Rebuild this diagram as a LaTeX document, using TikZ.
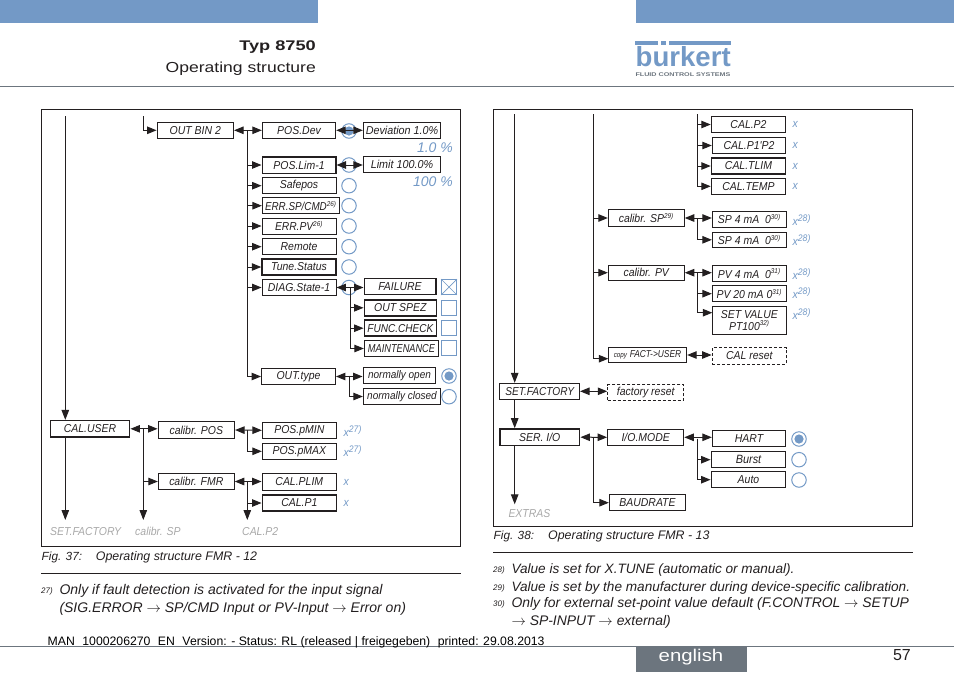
\documentclass[tikz,border=0pt]{standalone}
\usepackage{fontspec}
\setmainfont{Liberation Sans}
\newfontfamily\nar[FakeStretch=0.91]{Liberation Sans}
\usetikzlibrary{arrows.meta}
\definecolor{bk}{HTML}{7399C6}
\definecolor{gy}{HTML}{6C757E}
\definecolor{ink}{HTML}{231F20}
\definecolor{gt}{HTML}{A8A8A8}
\newcommand{\tsz}[1]{\fontsize{#1}{#1}\selectfont}
\newcommand{\sq}[2]{\scalebox{#1}[1]{#2}}
\newcommand{\sups}[1]{\textsuperscript{\tsz{7}#1}}
\newcommand{\supb}[1]{\textsuperscript{\tsz{9.5}#1}}
\newcommand{\ar}{\ensuremath{\rightarrow}}
\tikzset{
  x=1pt,y=-1pt,
  bx/.style={draw=ink,line width=.9pt,inner sep=0pt,text=ink,align=center,font=\nar\tsz{11.5}\itshape},
  tk/.style={bx,line width=1.5pt},
  ds/.style={bx,dash pattern=on 3pt off 2pt},
  ws/.style={minimum width=#1},
  hs/.style={minimum height=#1},
  arr/.style={draw=ink,line width=1pt,-{Triangle[length=9.5pt,width=7.5pt]}},
  bi/.style={draw=ink,line width=1pt,{Triangle[length=9.5pt,width=7.5pt]}-{Triangle[length=9.5pt,width=7.5pt]}},
  dn/.style={draw=ink,line width=1pt,-{Triangle[length=10pt,width=7.5pt]}},
  rd/.style={draw=bk,line width=1pt,circle,minimum size=14.5pt,inner sep=0pt},
  rs/.style={rd,path picture={\fill[bk] (path picture bounding box.center) circle (4.6pt);}},
  ck/.style={draw=bk,line width=.9pt,minimum size=15pt,inner sep=0pt},
  xv/.style={text=bk,inner sep=0pt,font=\nar\tsz{11.5}\itshape,anchor=west},
  gl/.style={text=gt,inner sep=0pt,font=\nar\tsz{11.5}\itshape,anchor=west},
  tx/.style={text=ink,inner sep=0pt,anchor=west},
  capt/.style={tx,font=\tsz{11.8}\itshape},
  fn/.style={tx,font=\tsz{13.6}\itshape},
  fnl/.style={tx,font=\tsz{14}\itshape},
  fnn/.style={tx,font=\tsz{8}\itshape},
  frm/.style={draw=ink,line width=1pt},
  rl/.style={draw=ink,line width=.8pt},
}
\begin{document}
\begin{tikzpicture}
\useasboundingbox (0,0) rectangle (954,673);
% header
\fill[bk] (0,0) rectangle (318,22.5);
\fill[bk] (636,0) rectangle (954,22.5);
\draw[gy,line width=1pt] (0,86) -- (954,86);
\node[tx,anchor=east,font=\tsz{14}\bfseries] (typ) at (316,47.5) {\sq{1.3}{Typ 8750}};
\node[tx,anchor=east,font=\tsz{14.5}] (ops) at (316,69) {\sq{1.21}{Operating structure}};
% logo
\fill[bk] (635,41) rectangle (657.7,45);
\fill[bk] (661,41) rectangle (665.7,45);
\fill[bk] (669,41) rectangle (731,45);
\node[inner sep=0pt,text=bk,anchor=north west] (logo) at (635.5,46.7) {\resizebox{95pt}{20pt}{\bfseries burkert}};
\node[inner sep=0pt,text=gy,font=\tsz{5.4}\bfseries] (logos) at (683,74.6) {\sq{1.33}{FLUID CONTROL SYSTEMS}};
% footer
\draw[gy,line width=1pt] (0,646) -- (954,646);
\fill[gy] (635.7,646) rectangle (746.5,672);
\node[inner sep=0pt,text=white,font=\tsz{17}] (eng) at (691,657.5) {\sq{1.2}{english}};
\node[tx,anchor=east,font=\tsz{16}] (pg) at (911,655) {57};
\node[inner sep=0pt,text=black,anchor=west,font=\tsz{12.25}] (man) at (47.5,642.5) {MAN\,\, 1000206270\,\, EN\,\, Version: - Status: RL (released | freigegeben)\,\, printed: 29.08.2013};

% ========== LEFT PANEL
\draw[frm] (41.5,109.5) rectangle (460.5,546.5);
\coordinate (la) at (65.3,116);
\coordinate (lb) at (143.3,116);
\node[tk,ws=76pt,hs=16pt] (outbin) at (195.3,130.3) {OUT BIN 2};
\node[bx,ws=73.5pt,hs=16pt] (posdev) at (299,130.3) {POS.Dev};
\node[tk,ws=73.5pt,hs=16.5pt] (poslim) at (299,165) {POS.Lim-1};
\node[bx,ws=74pt,hs=16pt] (safepos) at (299,185.7) {Safepos};
\node[bx,ws=77pt,hs=16pt] (errsp) at (300.8,205.7) {\sq{.94}{ERR.SP/CMD}\sups{26)}};
\node[bx,ws=74pt,hs=16pt] (errpv) at (299,226) {\sq{.98}{ERR.PV}\sups{26)}};
\node[bx,ws=74pt,hs=16pt] (remote) at (299,246.7) {Remote};
\node[tk,ws=74pt,hs=16pt] (tune) at (299,267) {Tune.Status};
\node[bx,ws=74pt,hs=16pt] (diag) at (299,287.5) {DIAG.State-1};
\node[bx,ws=74pt,hs=16pt] (outtype) at (298.5,376.5) {OUT.type};
\node[bx,ws=77.4pt,hs=16pt] (devv) at (402,130.3) {\sq{1.03}{Deviation 1.0\%}};
\node[bx,ws=77.4pt,hs=16pt] (limv) at (402,164.7) {\sq{1.03}{Limit 100.0\%}};
\node[xv,anchor=east,font=\tsz{14}\itshape] (pc1) at (453,147.3) {1.0 \%};
\node[xv,anchor=east,font=\tsz{14}\itshape] (pc2) at (453,181.3) {100 \%};
\node[rs] (r1) at (349,131) {};
\node[rd] (r2) at (349,165) {};
\node[rd] (r3) at (349,185.7) {};
\node[rd] (r4) at (349,205.7) {};
\node[rd] (r5) at (349,226) {};
\node[rd] (r6) at (349,246.7) {};
\node[rd] (r7) at (349,267) {};
\node[rd] (r8) at (349,287.5) {};
\node[tk,ws=71.5pt,hs=16pt] (fail) at (400,286.7) {FAILURE};
\node[tk,ws=72pt,hs=16pt] (outsp) at (400.3,307.8) {OUT SPEZ};
\node[tk,ws=72pt,hs=16pt] (func) at (400.3,328.2) {\sq{.96}{FUNC.CHECK}};
\node[bx,ws=74.4pt,hs=15.6pt] (maint) at (401.5,348.5) {\sq{.88}{MAINTENANCE}};
\node[ck] (c1) at (449,287) {};
\draw[bk,line width=.7pt] (c1.north west) -- (c1.south east) (c1.north east) -- (c1.south west);
\node[ck] (c2) at (449,307.5) {};
\node[ck] (c3) at (449,328) {};
\node[ck] (c4) at (449,348.2) {};
\node[tk,ws=72.4pt,hs=16pt] (nopen) at (399.5,375.5) {\tsz{11}normally open};
\node[bx,ws=77.4pt,hs=15.6pt] (nclosed) at (402,396.5) {\tsz{11}normally closed};
\node[rs] (r9) at (449,376) {};
\node[rd] (r10) at (449,396.7) {};
\node[tk,ws=79.4pt,hs=16.3pt] (caluser) at (90,428.8) {CAL.USER};
\node[tk,ws=76pt,hs=16.6pt] (cpos) at (196.3,430) {calibr. POS};
\node[bx,ws=76pt,hs=15.6pt] (cfmr) at (196.3,481.5) {calibr. FMR};
\node[bx,ws=74pt,hs=16pt] (pmin) at (299.3,430.3) {POS.pMIN};
\node[bx,ws=74pt,hs=16pt] (pmax) at (299.3,451.3) {POS.pMAX};
\node[tk,ws=74pt,hs=16.6pt] (cplim) at (299.3,482) {CAL.PLIM};
\node[tk,ws=74pt,hs=16.3pt] (cp1) at (299.3,503) {CAL.P1};
\node[xv] (xa) at (343.5,430.8) {x\supb{27)}};
\node[xv] (xb) at (343.5,451) {x\supb{27)}};
\node[xv] (xc) at (343.5,482) {x};
\node[xv] (xd) at (343.5,503) {x};
\node[gl] (g1) at (50,531.7) {SET.FACTORY};
\node[gl] (g2) at (135,531.7) {calibr. SP};
\node[gl] (g3) at (242,531.7) {CAL.P2};
\coordinate (e1) at (65.3,520);
\coordinate (e2) at (143.3,520);
\coordinate (e3) at (247.3,520);
% connectors left
\draw[dn] (la) -- (caluser.north -| la);
\draw[arr] (lb) |- (outbin.west);
\coordinate (t1) at (247.3,130.3);
\coordinate (t2) at (350.7,287.5);
\coordinate (t3) at (349.3,375.5);
\coordinate (t4) at (143.3,429);
\coordinate (t5) at (247.3,430.3);
\coordinate (t6) at (247.3,482);
\draw[bi] (outbin.east) -- (posdev.west);
\draw[bi] (posdev.east) -- (devv.west);
\draw[bi] (poslim.east) -- (limv.west |- poslim.east);
\foreach \n in {poslim,safepos,errsp,errpv,remote,tune,diag,outtype} \draw[arr] (t1) |- (\n.west);
\draw[bi] (diag.east) -- (fail.west |- diag.east);
\foreach \n in {outsp,func,maint} \draw[arr] (t2) |- (\n.west);
\draw[bi] (outtype.east) -- (nopen.west |- outtype.east);
\draw[arr] (t3) |- (nclosed.west);
\draw[bi] (caluser.east) -- (cpos.west |- caluser.east);
\draw[arr] (t4) |- (cfmr.west);
\draw[dn] (t4) -- (e2);
\draw[dn] (caluser.south -| e1) -- (e1);
\draw[bi] (cpos.east) -- (pmin.west);
\draw[arr] (t5) |- (pmax.west);
\draw[bi] (cfmr.east) -- (cplim.west |- cfmr.east);
\draw[arr] (t6) |- (cp1.west);
\draw[dn] (t6) -- (e3);
% captions left
\node[capt] (f37) at (41.5,557) {Fig. 37:};
\node[capt,font=\tsz{12.4}\itshape] (f37t) at (95.7,557) {Operating structure FMR - 12};
\draw[rl] (41,573.3) -- (460.5,573.3);
\node[fnn] (n27) at (41,591.5) {27)};
\node[fnl] (t27a) at (59.3,590.5) {Only if fault detection is activated for the input signal};
\node[fnl] (t27b) at (59.3,608.5) {(SIG.ERROR \ar{} SP/CMD Input or PV-Input \ar{} Error on)};

% ========== RIGHT PANEL
\draw[frm] (493.5,109.5) rectangle (912.7,526);
\coordinate (ra) at (514.7,114);
\coordinate (rb) at (593.3,114);
\coordinate (rc) at (697.3,114);
\node[tk,ws=74pt,hs=16.3pt] (cp2) at (748.5,124.5) {CAL.P2};
\node[bx,ws=73.5pt,hs=16.3pt] (cp12) at (749,145.5) {CAL.P1'P2};
\node[tk,ws=74pt,hs=16.3pt] (ctlim) at (748.5,166) {CAL.TLIM};
\node[tk,ws=74pt,hs=16pt] (ctemp) at (748.5,186.3) {CAL.TEMP};
\node[xv] (xe) at (792.5,124.5) {x};
\node[xv] (xf) at (792.5,145.5) {x};
\node[xv] (xg) at (792.5,166) {x};
\node[xv] (xh) at (792.5,186.3) {x};
\node[bx,ws=76pt,hs=16.3pt] (csp) at (646.3,218) {calibr. SP\sups{29)}};
\node[bx,ws=74pt,hs=16pt] (sp1) at (749.3,219.3) {SP 4 mA\ \ 0\sups{30)}};
\node[bx,ws=74pt,hs=15.7pt] (sp2) at (749.3,239.8) {SP 4 mA\ \ 0\sups{30)}};
\node[bx,ws=76pt,hs=15.4pt] (cpv) at (646.3,272.7) {calibr. PV};
\node[bx,ws=74pt,hs=16.3pt] (pv1) at (749.3,273.5) {PV 4 mA\ \ 0\sups{31)}};
\node[bx,ws=74pt,hs=16pt] (pv2) at (749.3,293.7) {PV 20 mA 0\sups{31)}};
\node[bx,ws=74pt,hs=28pt,align=center] (setv) at (749.3,320.3) {SET VALUE\\PT100\sups{32)}};
\node[xv] (xi) at (792.5,220) {x\supb{28)}};
\node[xv] (xj) at (792.5,240) {x\supb{28)}};
\node[xv] (xk) at (792.5,274.3) {x\supb{28)}};
\node[xv] (xl) at (792.5,293) {x\supb{28)}};
\node[xv] (xm) at (792.5,314) {x\supb{28)}};
\node[bx,ws=78.4pt,hs=15.6pt] (copy) at (647.5,355) {\sq{.92}{{\tsz{7.5}copy} \tsz{10}FACT->USER}};
\node[ds,line width=1.4pt,ws=74pt,hs=16.6pt] (calr) at (749.3,356) {CAL reset};
\node[bx,ws=79.8pt,hs=16pt] (setf) at (539.7,391.3) {\sq{.97}{SET.FACTORY}};
\node[ds,ws=76pt,hs=15.6pt] (facr) at (645.7,392.5) {factory reset};
\node[tk,ws=79.8pt,hs=16.3pt,line width=1.7pt] (seri) at (539.7,437.2) {SER. I/O};
\node[bx,line width=1.2pt,ws=76pt,hs=16pt] (iom) at (645.7,437.3) {I/O.MODE};
\node[bx,ws=76.4pt,hs=16pt] (baud) at (647.5,502.7) {BAUDRATE};
\node[bx,ws=73.4pt,hs=16.4pt] (hart) at (749,438.5) {HART};
\node[tk,ws=74.4pt,hs=16pt] (burst) at (748.5,459.7) {\tsz{12}Burst};
\node[tk,ws=74.4pt,hs=16pt] (auto) at (748.5,479.7) {Auto};
\node[rs] (r11) at (799,439) {};
\node[rd] (r12) at (799,459.7) {};
\node[rd] (r13) at (799,480) {};
\node[gl] (ex) at (508.3,513.7) {EXTRAS};
\coordinate (t7) at (697.3,219.3);
\coordinate (t8) at (697.3,273.3);
\coordinate (t9) at (593.3,437.3);
\coordinate (t10) at (697.3,438.5);
\coordinate (e4) at (514.7,504.3);
% connectors right
\draw[dn] (ra) -- (setf.north -| ra);
\foreach \n in {cp2,cp12,ctlim,ctemp} \draw[arr] (rc) |- (\n.west);
\foreach \n in {csp,cpv} \draw[arr] (rb) |- (\n.west);
\coordinate (cin) at (608.3,358.7);
\draw[arr] (rb) |- (cin);
\draw[bi] (csp.east) -- (sp1.west |- csp.east);
\draw[arr] (t7) |- (sp2.west);
\draw[bi] (cpv.east) -- (pv1.west |- cpv.east);
\draw[arr] (t8) |- (pv2.west);
\coordinate (sin) at (712.3,312.7);
\draw[arr] (t8) |- (sin);
\draw[bi] (copy.east) -- (calr.west |- copy.east);
\draw[bi] (setf.east) -- (facr.west |- setf.east);
\draw[dn] (setf.south -| ra) -- (seri.north -| ra);
\draw[bi] (seri.east) -- (iom.west);
\draw[arr] (t9) |- (baud.west);
\draw[dn] (seri.south -| ra) -- (e4);
\draw[bi] (iom.east) -- (hart.west |- iom.east);
\foreach \n in {burst,auto} \draw[arr] (t10) |- (\n.west);
% captions right
\node[capt] (f38) at (493.5,536.7) {Fig. 38:};
\node[capt,font=\tsz{12.4}\itshape] (f38t) at (548,536.7) {Operating structure FMR - 13};
\draw[rl] (493,552) -- (913,552);
\node[fnn] (n28) at (493,570.5) {28)};
\node[fn] (t28) at (511.3,570) {Value is set for X.TUNE (automatic or manual).};
\node[fnn] (n29) at (493,588) {29)};
\node[fn] (t29) at (511.3,587.5) {Value is set by the manufacturer during device-specific calibration.};
\node[fnn] (n30) at (493,604.5) {30)};
\node[fnl,font=\tsz{13.9}\itshape] (t30a) at (511.3,604.3) {Only for external set-point value default (F.CONTROL \ar{} SETUP};
\node[fnl,font=\tsz{13.9}\itshape] (t30b) at (511.3,622.3) {\ar{} SP-INPUT \ar{} external)};
\end{tikzpicture}
\end{document}
